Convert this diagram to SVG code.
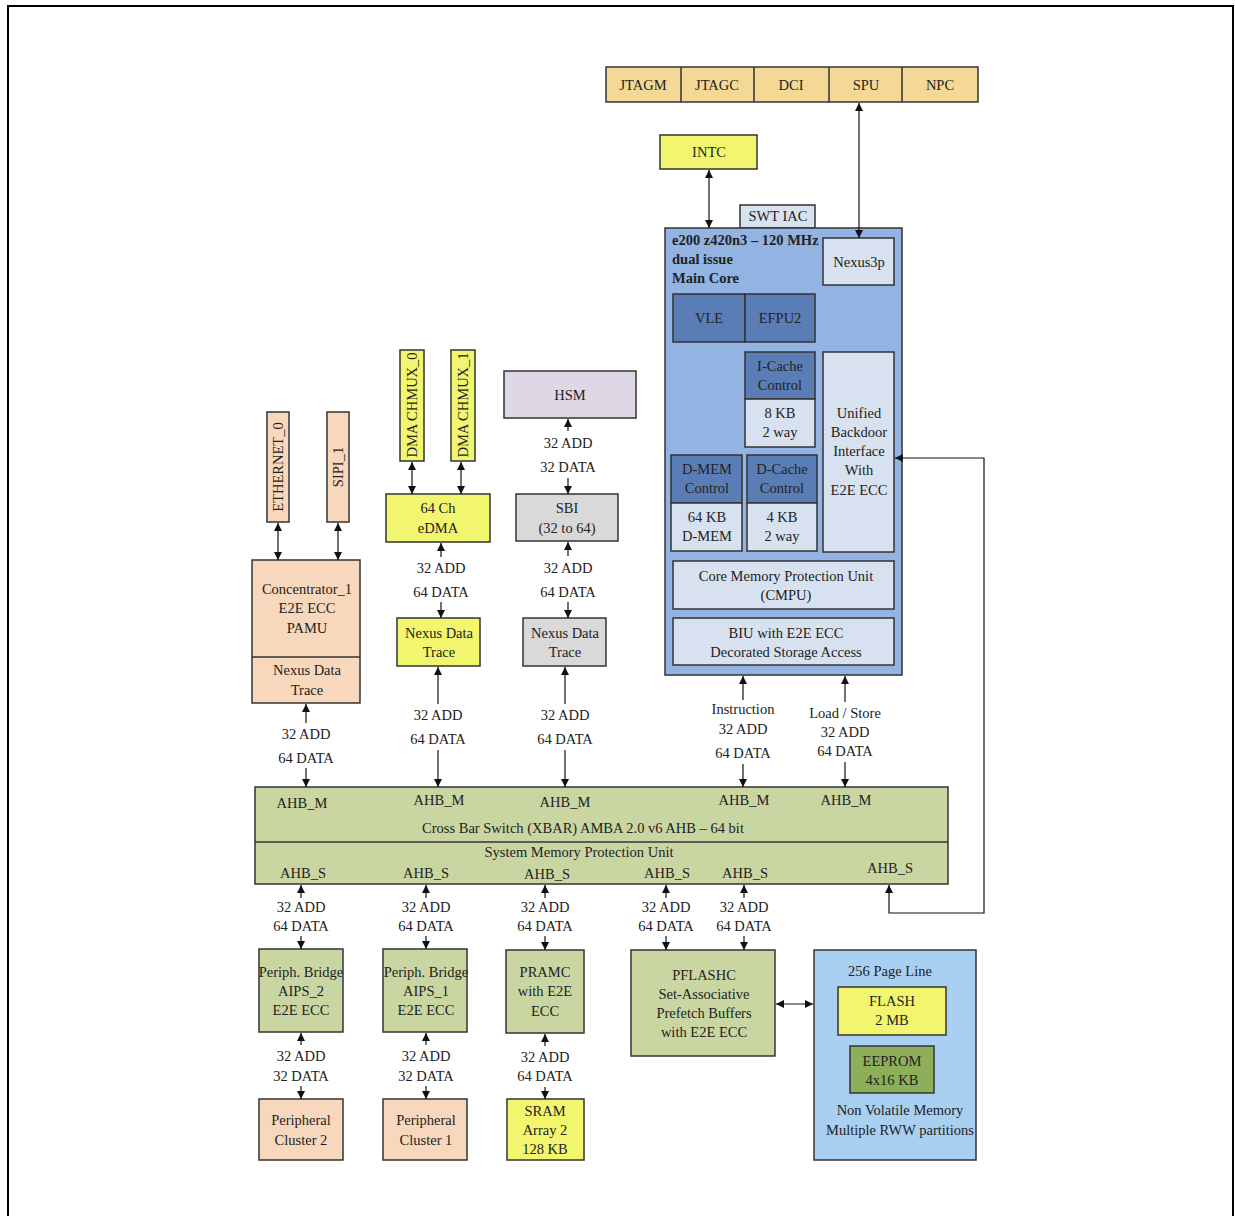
<svg xmlns="http://www.w3.org/2000/svg" width="1235" height="1216" viewBox="0 0 1235 1216">
<defs>
<marker id="ah" viewBox="0 0 10 10" refX="10" refY="5" markerWidth="9" markerHeight="8" markerUnits="userSpaceOnUse" orient="auto-start-reverse"><path d="M0,0 L10,5 L0,10 z" fill="#111"/></marker>
<style>
text{font-family:"Liberation Serif","Times New Roman",serif;font-size:14.5px;fill:#222;text-anchor:middle}
.b{font-weight:bold;text-anchor:start}
.box{stroke:#333;stroke-width:1.5}
.tan{fill:#F4D896}.yel{fill:#F2F66E}.pea{fill:#F8D8BC}.core{fill:#93B3E3}.dk{fill:#5B7DB6}.lt{fill:#D7E1EF}
.grn{fill:#C9D6A1}.gry{fill:#D9D9D9}.lav{fill:#DDD7E6}.nvm{fill:#A9D0F1}.eep{fill:#8DAF5A}
.c{stroke:#111;stroke-width:1.2;fill:none}
.one{marker-end:url(#ah)}
.two{marker-start:url(#ah);marker-end:url(#ah)}
</style>
</defs>
<rect width="1235" height="1216" fill="#fff"/>
<path d="M8,1216 L8,6 L1233,6 L1233,1216" fill="none" stroke="#000" stroke-width="2"/>

<g id="debug-bar">
<rect class="box tan" x="606" y="67" width="372" height="35"/>
<line x1="681" y1="67" x2="681" y2="102" stroke="#333" stroke-width="1.5"/>
<line x1="754" y1="67" x2="754" y2="102" stroke="#333" stroke-width="1.5"/>
<line x1="829" y1="67" x2="829" y2="102" stroke="#333" stroke-width="1.5"/>
<line x1="902" y1="67" x2="902" y2="102" stroke="#333" stroke-width="1.5"/>
<text x="643" y="90">JTAGM</text><text x="717" y="90">JTAGC</text><text x="791" y="90">DCI</text><text x="866" y="90">SPU</text><text x="940" y="90">NPC</text>
</g>
<g id="intc"><rect class="box yel" x="660" y="135" width="97" height="34"/><text x="709" y="157">INTC</text></g>
<g id="swt-iac"><rect class="box lt" x="740" y="205" width="75" height="23"/><text x="778" y="221">SWT IAC</text></g>
<g id="core">
<rect class="box core" x="665" y="228" width="237" height="447"/>
<text class="b" x="672" y="245">e200 z420n3 – 120 MHz</text>
<text class="b" x="672" y="264">dual issue</text>
<text class="b" x="672" y="283">Main Core</text>
</g>
<g id="nexus3p"><rect class="box lt" x="823" y="238" width="71" height="47"/><text x="859" y="267">Nexus3p</text></g>
<g id="vle"><rect class="box dk" x="673" y="294" width="72" height="48"/><text x="709" y="323">VLE</text></g>
<g id="efpu2"><rect class="box dk" x="745" y="294" width="70" height="48"/><text x="780" y="323">EFPU2</text></g>
<g id="icache">
<rect class="box dk" x="745" y="352" width="70" height="47"/><text x="780" y="371">I-Cache</text><text x="780" y="390">Control</text>
<rect class="box lt" x="745" y="399" width="70" height="48"/><text x="780" y="418">8 KB</text><text x="780" y="437">2 way</text>
</g>
<g id="backdoor">
<rect class="box lt" x="823" y="352" width="71" height="200"/>
<text x="859" y="418">Unified</text><text x="859" y="437">Backdoor</text><text x="859" y="456">Interface</text><text x="859" y="475">With</text><text x="859" y="495">E2E ECC</text>
</g>
<g id="dmem">
<rect class="box dk" x="671" y="455" width="71" height="48"/><text x="707" y="474">D-MEM</text><text x="707" y="493">Control</text>
<rect class="box lt" x="671" y="503" width="71" height="48"/><text x="707" y="522">64 KB</text><text x="707" y="541">D-MEM</text>
</g>
<g id="dcache">
<rect class="box dk" x="747" y="455" width="70" height="48"/><text x="782" y="474">D-Cache</text><text x="782" y="493">Control</text>
<rect class="box lt" x="747" y="503" width="70" height="48"/><text x="782" y="522">4 KB</text><text x="782" y="541">2 way</text>
</g>
<g id="cmpu"><rect class="box lt" x="673" y="561" width="221" height="48"/><text x="786" y="581">Core Memory Protection Unit</text><text x="786" y="600">(CMPU)</text></g>
<g id="biu"><rect class="box lt" x="673" y="618" width="221" height="47"/><text x="786" y="638">BIU with E2E ECC</text><text x="786" y="657">Decorated Storage Access</text></g>

<g id="ethernet0"><rect class="box pea" x="267" y="412" width="22" height="110"/><text transform="translate(283,467) rotate(-90)">ETHERNET_0</text></g>
<g id="sipi1"><rect class="box pea" x="327" y="412" width="22" height="110"/><text transform="translate(343,467) rotate(-90)">SIPI_1</text></g>
<g id="concentrator">
<rect class="box pea" x="252" y="560" width="108" height="143"/>
<line x1="252" y1="657" x2="360" y2="657" stroke="#333" stroke-width="1.5"/>
<text x="307" y="594">Concentrator_1</text><text x="307" y="613">E2E ECC</text><text x="307" y="633">PAMU</text>
<text x="307" y="675">Nexus Data</text><text x="307" y="695">Trace</text>
</g>
<g id="dmachmux0"><rect class="box yel" x="400" y="350" width="24" height="111"/><text transform="translate(417,405) rotate(-90)">DMA CHMUX_0</text></g>
<g id="dmachmux1"><rect class="box yel" x="451" y="350" width="24" height="111"/><text transform="translate(468,405) rotate(-90)">DMA CHMUX_1</text></g>
<g id="edma"><rect class="box yel" x="386" y="494" width="104" height="48"/><text x="438" y="513">64 Ch</text><text x="438" y="533">eDMA</text></g>
<g id="nexus-trace-edma"><rect class="box yel" x="397" y="618" width="83" height="48"/><text x="439" y="638">Nexus Data</text><text x="439" y="657">Trace</text></g>
<g id="hsm"><rect class="box lav" x="504" y="371" width="132" height="47"/><text x="570" y="400">HSM</text></g>
<g id="sbi"><rect class="box gry" x="516" y="494" width="102" height="47"/><text x="567" y="513">SBI</text><text x="567" y="533">(32 to 64)</text></g>
<g id="nexus-trace-sbi"><rect class="box gry" x="523" y="618" width="83" height="48"/><text x="565" y="638">Nexus Data</text><text x="565" y="657">Trace</text></g>

<g id="xbar">
<rect class="box grn" x="255" y="787" width="693" height="97"/>
<line x1="255" y1="842" x2="948" y2="842" stroke="#333" stroke-width="1.5"/>
<text x="302" y="808">AHB_M</text><text x="439" y="805">AHB_M</text><text x="565" y="807">AHB_M</text><text x="744" y="805">AHB_M</text><text x="846" y="805">AHB_M</text>
<text x="583" y="833">Cross Bar Switch (XBAR) AMBA 2.0 v6 AHB – 64 bit</text>
<text x="579" y="857">System Memory Protection Unit</text>
<text x="303" y="878">AHB_S</text><text x="426" y="878">AHB_S</text><text x="547" y="879">AHB_S</text><text x="667" y="878">AHB_S</text><text x="745" y="878">AHB_S</text><text x="890" y="873">AHB_S</text>
</g>

<g id="aips2"><rect class="box grn" x="259" y="949" width="84" height="83"/><text x="301" y="977">Periph. Bridge</text><text x="301" y="996">AIPS_2</text><text x="301" y="1015">E2E ECC</text></g>
<g id="aips1"><rect class="box grn" x="383" y="949" width="84" height="83"/><text x="426" y="977">Periph. Bridge</text><text x="426" y="996">AIPS_1</text><text x="426" y="1015">E2E ECC</text></g>
<g id="pramc"><rect class="box grn" x="506" y="950" width="78" height="83"/><text x="545" y="977">PRAMC</text><text x="545" y="996">with E2E</text><text x="545" y="1016">ECC</text></g>
<g id="cluster2"><rect class="box pea" x="259" y="1099" width="84" height="61"/><text x="301" y="1125">Peripheral</text><text x="301" y="1145">Cluster 2</text></g>
<g id="cluster1"><rect class="box pea" x="383" y="1099" width="84" height="61"/><text x="426" y="1125">Peripheral</text><text x="426" y="1145">Cluster 1</text></g>
<g id="sram"><rect class="box yel" x="507" y="1099" width="77" height="61"/><text x="545" y="1116">SRAM</text><text x="545" y="1135">Array 2</text><text x="545" y="1154">128 KB</text></g>
<g id="pflashc"><rect class="box grn" x="631" y="950" width="144" height="106"/><text x="704" y="980">PFLASHC</text><text x="704" y="999">Set-Associative</text><text x="704" y="1018">Prefetch Buffers</text><text x="704" y="1037">with E2E ECC</text></g>
<g id="nvm">
<rect class="box nvm" x="814" y="950" width="162" height="210"/>
<text x="890" y="976">256 Page Line</text>
<text x="900" y="1115">Non Volatile Memory</text><text x="900" y="1135">Multiple RWW partitions</text>
</g>
<g id="flash"><rect class="box yel" x="838" y="987" width="108" height="48"/><text x="892" y="1006">FLASH</text><text x="892" y="1025">2 MB</text></g>
<g id="eeprom"><rect class="box eep" x="850" y="1046" width="84" height="47"/><text x="892" y="1066">EEPROM</text><text x="892" y="1085">4x16 KB</text></g>

<g id="connectors">
<line class="c two" x1="709" y1="170" x2="709" y2="228"/>
<line class="c two" x1="859" y1="103" x2="859" y2="238"/>
<line class="c two" x1="278" y1="523" x2="278" y2="560"/>
<line class="c two" x1="338" y1="523" x2="338" y2="560"/>
<line class="c two" x1="412" y1="462" x2="412" y2="494"/>
<line class="c two" x1="461" y1="462" x2="461" y2="494"/>
<line class="c one" x1="441" y1="557" x2="441" y2="543"/><line class="c one" x1="441" y1="602" x2="441" y2="618"/>
<text x="441" y="573">32 ADD</text><text x="441" y="597">64 DATA</text>
<line class="c one" x1="438" y1="704" x2="438" y2="667"/><line class="c one" x1="438" y1="750" x2="438" y2="787"/>
<text x="438" y="720">32 ADD</text><text x="438" y="744">64 DATA</text>
<line class="c one" x1="568" y1="431" x2="568" y2="419"/><line class="c one" x1="568" y1="478" x2="568" y2="494"/>
<text x="568" y="448">32 ADD</text><text x="568" y="472">32 DATA</text>
<line class="c one" x1="568" y1="556" x2="568" y2="542"/><line class="c one" x1="568" y1="602" x2="568" y2="618"/>
<text x="568" y="573">32 ADD</text><text x="568" y="597">64 DATA</text>
<line class="c one" x1="565" y1="704" x2="565" y2="667"/><line class="c one" x1="565" y1="750" x2="565" y2="787"/>
<text x="565" y="720">32 ADD</text><text x="565" y="744">64 DATA</text>
<line class="c one" x1="306" y1="723" x2="306" y2="704"/><line class="c one" x1="306" y1="768" x2="306" y2="787"/>
<text x="306" y="739">32 ADD</text><text x="306" y="763">64 DATA</text>
<line class="c one" x1="743" y1="700" x2="743" y2="676"/><line class="c one" x1="743" y1="764" x2="743" y2="787"/>
<text x="743" y="714">Instruction</text><text x="743" y="734">32 ADD</text><text x="743" y="758">64 DATA</text>
<line class="c one" x1="845" y1="702" x2="845" y2="676"/><line class="c one" x1="845" y1="762" x2="845" y2="787"/>
<text x="845" y="718">Load / Store</text><text x="845" y="737">32 ADD</text><text x="845" y="756">64 DATA</text>
<path class="c two" d="M889,885 L889,913 L984,913 L984,458 L895,458"/>

<line class="c one" x1="301" y1="898" x2="301" y2="885"/><line class="c one" x1="301" y1="936" x2="301" y2="949"/>
<text x="301" y="912">32 ADD</text><text x="301" y="931">64 DATA</text>
<line class="c one" x1="301" y1="1045" x2="301" y2="1033"/><line class="c one" x1="301" y1="1086" x2="301" y2="1099"/>
<text x="301" y="1061">32 ADD</text><text x="301" y="1081">32 DATA</text>
<line class="c one" x1="426" y1="898" x2="426" y2="885"/><line class="c one" x1="426" y1="936" x2="426" y2="949"/>
<text x="426" y="912">32 ADD</text><text x="426" y="931">64 DATA</text>
<line class="c one" x1="426" y1="1045" x2="426" y2="1033"/><line class="c one" x1="426" y1="1086" x2="426" y2="1099"/>
<text x="426" y="1061">32 ADD</text><text x="426" y="1081">32 DATA</text>
<line class="c one" x1="545" y1="898" x2="545" y2="885"/><line class="c one" x1="545" y1="936" x2="545" y2="950"/>
<text x="545" y="912">32 ADD</text><text x="545" y="931">64 DATA</text>
<line class="c one" x1="545" y1="1046" x2="545" y2="1034"/><line class="c one" x1="545" y1="1087" x2="545" y2="1099"/>
<text x="545" y="1062">32 ADD</text><text x="545" y="1081">64 DATA</text>
<line class="c one" x1="666" y1="898" x2="666" y2="885"/><line class="c one" x1="666" y1="936" x2="666" y2="950"/>
<text x="666" y="912">32 ADD</text><text x="666" y="931">64 DATA</text>
<line class="c one" x1="744" y1="898" x2="744" y2="885"/><line class="c one" x1="744" y1="936" x2="744" y2="950"/>
<text x="744" y="912">32 ADD</text><text x="744" y="931">64 DATA</text>
<line class="c two" x1="776" y1="1004" x2="813" y2="1004"/>
</g>
</svg>
